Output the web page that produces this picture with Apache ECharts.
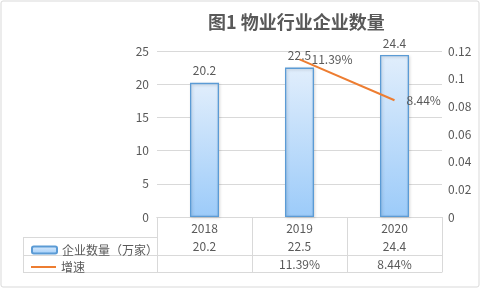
<!DOCTYPE html>
<html><head><meta charset="utf-8">
<script src="https://cdn.jsdelivr.net/npm/echarts@6/dist/echarts.min.js"></script>
<style>html,body{margin:0;padding:0;background:#fff}#c{width:481px;height:289px}</style>
</head><body><div id="c"></div>
<script>
const categories = ['2018', '2019', '2020'];
const companyCounts = [20.2, 22.5, 24.4];
const growthRates = [null, 0.1139, 0.0844];
const barName = '企业数量（万家）';
const lineName = '增速';
const titleText = '图1 物业行业企业数量';

const FONT = '"Noto Sans CJK SC", "Microsoft YaHei", sans-serif';
const TXT = '#595959';
const BORDER = '#d9d9d9';
const ORANGE = '#ed7d31';
const G = { left: 157, right: 39, top: 51, bottom: 72 };
const W = 481, H = 289;
const gx0 = G.left, gx1 = W - G.right, gy1 = H - G.bottom;
const ROW1 = 20, ROW2 = 38, ROW3 = 55;
const pct = v => (v == null ? '' : (v * 100).toFixed(2) + '%');

const chart = echarts.init(document.getElementById('c'), null, { renderer: 'canvas' });
const rowAxis = (data, offset, showLabel) => ({
  type: 'category', data: data, gridIndex: 0, position: 'bottom', offset: offset,
  axisLine: { show: true, lineStyle: { color: BORDER } },
  axisTick: { show: false },
  axisLabel: { show: showLabel, color: TXT, fontSize: 12, fontFamily: FONT, margin: 3, interval: 0 },
  splitLine: { show: false }
});
const legendBase = {
  orient: 'vertical', left: 26, itemWidth: 25, itemHeight: 7, itemGap: 0,
  textStyle: { color: TXT, fontSize: 12, fontFamily: FONT }
};
chart.setOption({
  animation: false,
  textStyle: { fontFamily: FONT },
  title: { text: titleText, left: 203, top: 8, textStyle: { color: TXT, fontSize: 18, fontWeight: 'bold', fontFamily: FONT } },
  legend: [
    Object.assign({}, legendBase, { top: 239, data: [barName] }),
    Object.assign({}, legendBase, { top: 256, itemHeight: 2, data: [{ name: lineName, icon: 'rect', itemStyle: { color: ORANGE } }] })
  ],
  grid: { left: G.left, right: G.right, top: G.top, bottom: G.bottom, containLabel: false },
  xAxis: [
    {
      type: 'category', data: categories, position: 'bottom',
      axisLine: { show: true, lineStyle: { color: BORDER } },
      axisTick: { show: true, length: ROW3, lineStyle: { color: BORDER } },
      axisLabel: { color: TXT, fontSize: 12, fontFamily: FONT, margin: 5 },
      splitLine: { show: false }
    },
    rowAxis(companyCounts.map(String), ROW1, true),
    rowAxis(growthRates.map(pct), ROW2, true),
    rowAxis(categories.map(() => ''), ROW3, false)
  ],
  yAxis: [
    {
      type: 'value', min: 0, max: 25, interval: 5,
      axisLine: { show: false }, axisTick: { show: false },
      axisLabel: { color: TXT, fontSize: 12, fontFamily: FONT, margin: 8 },
      splitLine: { lineStyle: { color: BORDER } }
    },
    {
      type: 'value', min: 0, max: 0.12, interval: 0.02, position: 'right',
      axisLine: { show: false }, axisTick: { show: false },
      axisLabel: { color: TXT, fontSize: 12, fontFamily: FONT, margin: 6 },
      splitLine: { show: false }
    }
  ],
  series: [
    {
      name: barName, type: 'bar', data: companyCounts, barWidth: 29,
      itemStyle: {
        color: new echarts.graphic.LinearGradient(0, 0, 0, 1, [
          { offset: 0, color: '#e1eefc' }, { offset: 1, color: '#9ccbf9' }
        ]),
        borderColor: '#5b9bd5', borderWidth: 1.3,
        shadowColor: 'rgba(0,0,0,0.18)', shadowBlur: 3, shadowOffsetX: 1, shadowOffsetY: 1
      },
      label: { show: true, position: 'top', distance: 6, color: TXT, fontSize: 12, fontFamily: FONT }
    },
    {
      name: lineName, type: 'line', yAxisIndex: 1, data: growthRates,
      symbol: 'none',
      lineStyle: { color: ORANGE, width: 2 },
      itemStyle: { color: ORANGE }
    },
    {
      name: lineName + '标签', type: 'scatter', yAxisIndex: 1, data: growthRates,
      symbolSize: 0, itemStyle: { color: ORANGE, opacity: 1 }, silent: true,
      label: { show: true, position: 'right', distance: 12, color: TXT, opacity: 1, fontSize: 12, fontFamily: FONT, formatter: p => pct(p.value) }
    }
  ],
  graphic: [
    { type: 'rect', shape: { x: 1, y: 1, width: W - 3, height: H - 3, r: 2 }, style: { fill: 'none', stroke: BORDER, lineWidth: 1 }, silent: true },
    { type: 'line', shape: { x1: 23, y1: gy1 + ROW1 + 0.5, x2: gx0, y2: gy1 + ROW1 + 0.5 }, style: { stroke: BORDER } },
    { type: 'line', shape: { x1: 23, y1: gy1 + ROW2 + 0.5, x2: gx0, y2: gy1 + ROW2 + 0.5 }, style: { stroke: BORDER } },
    { type: 'line', shape: { x1: 23, y1: gy1 + ROW3 + 0.5, x2: gx0, y2: gy1 + ROW3 + 0.5 }, style: { stroke: BORDER } },
    { type: 'line', shape: { x1: 23.5, y1: gy1 + ROW1, x2: 23.5, y2: gy1 + ROW3 + 1 }, style: { stroke: BORDER } }
  ]
});
</script></body></html>
